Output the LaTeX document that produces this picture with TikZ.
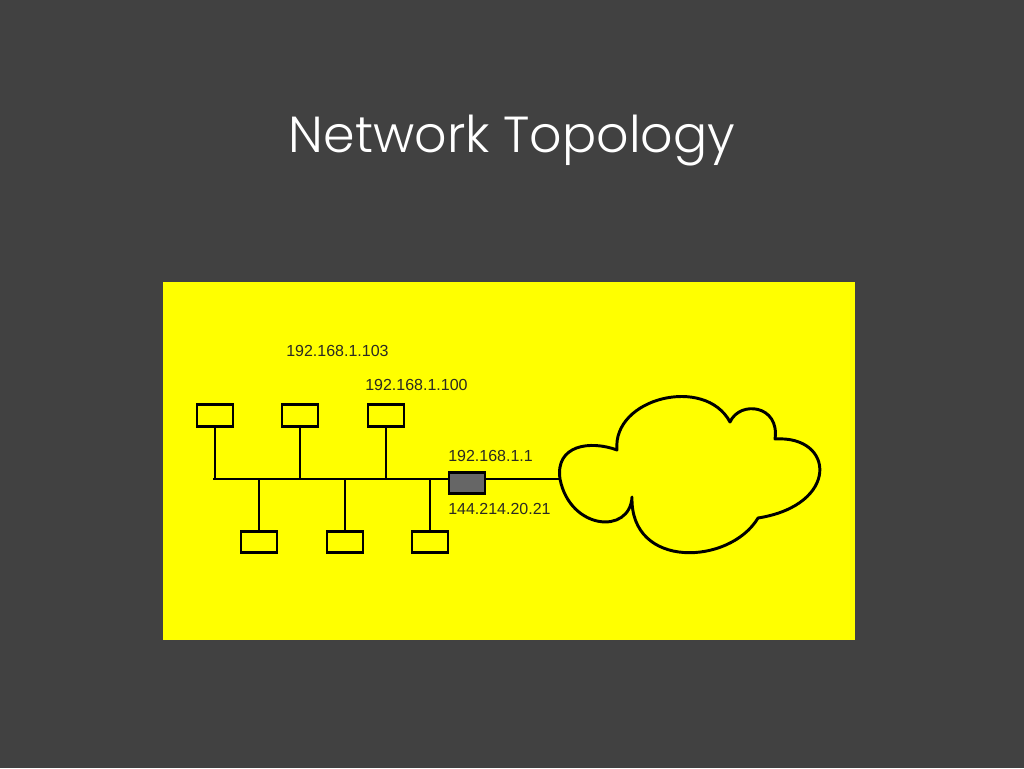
\documentclass[tikz,border=0pt]{standalone}
\usepackage{fontspec}
\setmainfont{Liberation Sans}
\newfontfamily\titlefont{Poppins}[UprightFont=* Light]
\definecolor{bgdark}{HTML}{414141}
\definecolor{panel}{HTML}{FFFF00}
\definecolor{routergray}{HTML}{666666}
\definecolor{labeltext}{HTML}{2A2A22}
\begin{document}
\begin{tikzpicture}[x=0.75pt,y=-0.75pt,
  hostbox/.style={draw=black,line width=2.2pt,fill=panel,minimum width=27pt,minimum height=16pt,inner sep=0pt},
  routerbox/.style={draw=black,line width=2.2pt,fill=routergray,minimum width=27pt,minimum height=15.5pt,inner sep=0pt},
  wire/.style={line width=2.2pt,black},
  iplabel/.style={font=\fontsize{12pt}{14pt}\selectfont,text=labeltext,inner sep=0pt,anchor=west}]
\useasboundingbox[fill=bgdark] (0,0) rectangle (1024,768);
\fill[panel] (163,282) rectangle (855,640);
\node[font=\titlefont\fontsize{38pt}{44pt}\selectfont,text=white,anchor=base,inner sep=0pt] (title) at (512,152) {Network Topology};
% hosts
\node[hostbox] (h1) at (215,415.5) {};
\node[hostbox] (h2) at (300,415.5) {};
\node[hostbox] (h3) at (386,415.5) {};
\node[hostbox] (h4) at (259,542) {};
\node[hostbox] (h5) at (345,542) {};
\node[hostbox] (h6) at (430,542) {};
\node[routerbox] (router) at (467,483) {};
\coordinate (busL) at (213,479);
\coordinate (busR) at (448,479);
\coordinate (rOut) at (486,479);
\coordinate (cloudL) at (560,479);
% bus
\draw[wire] (busL) -- (busR);
\draw[wire] (rOut) -- (cloudL);
\foreach \h in {h1,h2,h3,h4,h5,h6} \draw[wire] (\h) -- (\h |- busL);
\foreach \h in {h1,h2,h3,h4,h5,h6} \node[hostbox] at (\h) {};
\node[routerbox] at (router) {};
% cloud
\draw[line width=2.2pt,line join=round] (cloudL)
  .. controls (555,445) and (590,440) .. (617,450)
  .. controls (612,398) and (705,375) .. (730,422)
  .. controls (740,400) and (780,405) .. (775,439)
  .. controls (835,435) and (840,505) .. (758,518)
  .. controls (730,565) and (630,570) .. (632,497)
  .. controls (630,535) and (570,530) .. (cloudL) -- cycle;
% labels
\node[iplabel] (l103) at (286,351) {192.168.1.103};
\node[iplabel] (l100) at (365,385) {192.168.1.100};
\node[iplabel] (l1) at (448,456) {192.168.1.1};
\node[iplabel] (lext) at (448,509) {144.214.20.21};
\end{tikzpicture}
\end{document}
